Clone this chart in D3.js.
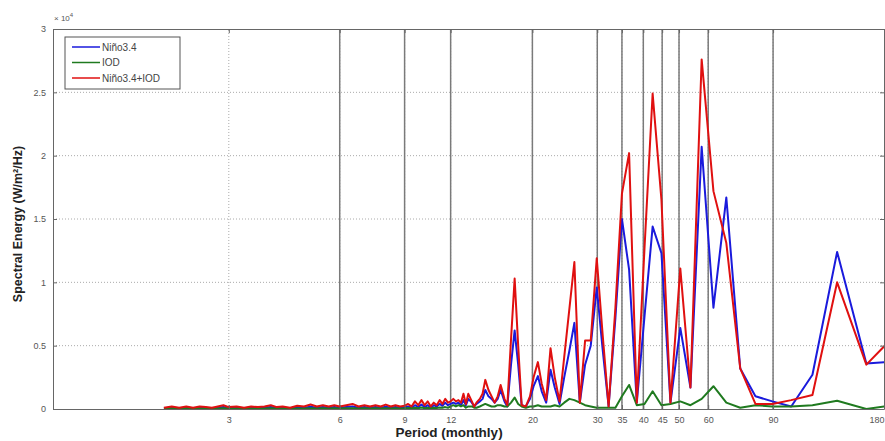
<!DOCTYPE html>
<html>
<head>
<meta charset="utf-8">
<script src="https://cdnjs.cloudflare.com/ajax/libs/d3/7.8.5/d3.min.js"></script>
<style>
  body { margin: 0; background: #fff; }
  svg { display: block; font-family: "Liberation Sans", Arial, sans-serif; }
  .tick text { fill: #555; font-size: 9px; }
</style>
</head>
<body>
<div id="chart"></div>
<script>
const width = 885;
const height = 441;
const margin = { top: 29, right: 1, bottom: 32, left: 53 };

// period (months), ascending
const periods = [2.0, 2.1, 2.2, 2.3, 2.4, 2.5, 2.6, 2.7, 2.8, 2.9, 3.0, 3.15, 3.3, 3.45, 3.6, 3.75, 3.9, 4.05, 4.2, 4.4,
  4.6, 4.8, 5.0, 5.2, 5.4, 5.6, 5.8, 6.0, 6.25, 6.5, 6.75, 7.0, 7.25, 7.5, 7.75, 8.0, 8.25, 8.5, 8.75, 9.0,
  9.2, 9.4, 9.6, 9.8, 10.0, 10.2, 10.4, 10.6, 10.8, 11.0, 11.2, 11.4, 11.6, 11.8,
  12.0, 12.2, 12.4, 12.6, 12.8, 13.0, 13.2, 13.4, 13.7, 13.9, 14.1, 14.4, 14.65, 14.9, 15.2, 15.5, 15.8, 16.1, 16.4, 16.8,
  17.1, 17.5, 17.9, 18.3, 18.7, 19.2, 19.7, 20.15, 20.7, 21.2, 21.8, 22.4, 23.0, 23.7, 24.4, 25.2, 26.0, 26.9, 27.8, 28.8,
  29.9, 31.0, 32.2, 33.6, 35.0, 36.6, 38.4, 40.3, 42.4, 44.8, 47.4, 50.4, 53.7, 57.6, 62.0, 67.2, 73.3, 80.6, 89.6, 100.8,
  115.1, 134.3, 161.2, 201.5];

// spectral energy, x 10^4
const nino34 = [0.005, 0.01, 0.005, 0.01, 0.005, 0.01, 0.008, 0.005, 0.01, 0.015, 0.008, 0.01, 0.005, 0.01, 0.008, 0.01, 0.015, 0.008, 0.01, 0.005,
  0.012, 0.01, 0.018, 0.01, 0.015, 0.01, 0.015, 0.01, 0.015, 0.02, 0.01, 0.015, 0.01, 0.015, 0.01, 0.018, 0.01, 0.015, 0.01, 0.012,
  0.02, 0.01, 0.03, 0.015, 0.035, 0.015, 0.03, 0.01, 0.03, 0.02, 0.04, 0.025, 0.05, 0.03,
  0.04, 0.05, 0.04, 0.05, 0.03, 0.07, 0.03, 0.08, 0.05, 0.02, 0.04, 0.06, 0.08, 0.15, 0.1, 0.08, 0.05, 0.08, 0.15, 0.06,
  0.02, 0.35, 0.62, 0.35, 0.03, 0.02, 0.08, 0.18, 0.26, 0.14, 0.05, 0.31, 0.17, 0.04, 0.25, 0.46, 0.68, 0.05, 0.35, 0.5,
  0.96, 0.48, 0.02, 0.72, 1.5, 1.1, 0.05, 0.73, 1.44, 1.23, 0.05, 0.64, 0.17, 2.07, 0.8, 1.67, 0.32, 0.1, 0.06, 0.02,
  0.27, 1.24, 0.36, 0.38];

const iod = [0.003, 0.005, 0.003, 0.005, 0.003, 0.004, 0.003, 0.003, 0.004, 0.005, 0.003, 0.004, 0.003, 0.004, 0.003, 0.004, 0.005, 0.003, 0.004, 0.003,
  0.004, 0.004, 0.005, 0.004, 0.005, 0.004, 0.005, 0.004, 0.005, 0.006, 0.004, 0.005, 0.004, 0.005, 0.004, 0.006, 0.004, 0.005, 0.004, 0.005,
  0.008, 0.005, 0.01, 0.006, 0.012, 0.006, 0.01, 0.005, 0.01, 0.008, 0.012, 0.01, 0.015, 0.01,
  0.02, 0.03, 0.02, 0.03, 0.02, 0.03, 0.01, 0.02, 0.02, 0.01, 0.01, 0.02, 0.03, 0.04, 0.03, 0.02, 0.02, 0.03, 0.03, 0.02,
  0.02, 0.05, 0.09, 0.04, 0.02, 0.01, 0.02, 0.02, 0.03, 0.02, 0.02, 0.02, 0.03, 0.02, 0.05, 0.08, 0.07, 0.05, 0.03, 0.02,
  0.01, 0.01, 0.01, 0.01, 0.1, 0.19, 0.03, 0.04, 0.14, 0.03, 0.04, 0.06, 0.03, 0.08, 0.18, 0.05, 0.01, 0.03, 0.02, 0.02,
  0.03, 0.065, 0.0, 0.04];

const combined = [0.01, 0.02, 0.01, 0.02, 0.01, 0.02, 0.015, 0.01, 0.02, 0.03, 0.015, 0.02, 0.01, 0.02, 0.015, 0.02, 0.03, 0.015, 0.02, 0.01,
  0.025, 0.02, 0.035, 0.02, 0.03, 0.02, 0.03, 0.02, 0.03, 0.04, 0.02, 0.03, 0.02, 0.03, 0.02, 0.035, 0.02, 0.03, 0.02, 0.025,
  0.04, 0.02, 0.06, 0.03, 0.07, 0.03, 0.06, 0.02, 0.05, 0.03, 0.07, 0.04, 0.08, 0.05,
  0.06, 0.08, 0.06, 0.07, 0.05, 0.12, 0.04, 0.12, 0.06, 0.02, 0.05, 0.08, 0.12, 0.23, 0.15, 0.1, 0.05, 0.1, 0.19, 0.08,
  0.03, 0.55, 1.03, 0.5, 0.03, 0.02, 0.1, 0.25, 0.37, 0.2, 0.07, 0.48, 0.25, 0.06, 0.41, 0.79, 1.16, 0.05, 0.54, 0.54,
  1.19, 0.6, 0.02, 0.8, 1.7, 2.02, 0.05, 1.27, 2.49, 1.65, 0.05, 1.11, 0.17, 2.76, 1.72, 1.31, 0.32, 0.04, 0.04, 0.07,
  0.11, 1.0, 0.35, 0.64];

const seriesNames = ["Niño3.4", "IOD", "Niño3.4+IOD"];
const seriesColors = ["#1a1adc", "#1f7a1f", "#e01010"];
const xTicks = [3, 6, 9, 12, 20, 30, 35, 40, 45, 50, 60, 90, 180];
const markerLines = [6, 9, 12, 20, 30, 35, 40, 45, 50, 60, 90];
const yTicks = [0, 0.5, 1, 1.5, 2, 2.5, 3];

const svg = d3.select("#chart").append("svg")
  .attr("width", width)
  .attr("height", height);

const x = d3.scaleLog()
  .domain([1, 180])
  .range([margin.left, width - margin.right]);

const y = d3.scaleLinear()
  .domain([0, 3])
  .range([height - margin.bottom, margin.top]);

const x0 = margin.left, x1 = width - margin.right;
const y0 = height - margin.bottom, y1 = margin.top;

svg.append("defs").append("clipPath").attr("id", "plot-clip")
  .append("rect")
  .attr("x", x0).attr("y", y1)
  .attr("width", x1 - x0).attr("height", y0 - y1);

// dotted grid
svg.append("g")
  .selectAll("line")
  .data(yTicks.slice(1, -1))
  .join("line")
  .attr("x1", x0).attr("x2", x1)
  .attr("y1", d => y(d)).attr("y2", d => y(d))
  .attr("stroke", "#aaa")
  .attr("stroke-dasharray", "1,2");

svg.append("g")
  .selectAll("line")
  .data(xTicks.slice(0, -1))
  .join("line")
  .attr("x1", d => x(d)).attr("x2", d => x(d))
  .attr("y1", y0).attr("y2", y1)
  .attr("stroke", "#aaa")
  .attr("stroke-dasharray", "1,2");

// solid period markers
svg.append("g")
  .selectAll("line")
  .data(markerLines)
  .join("line")
  .attr("x1", d => x(d)).attr("x2", d => x(d))
  .attr("y1", y0).attr("y2", y1)
  .attr("stroke", "#7a7a7a")
  .attr("stroke-width", 1.5);

// series
const line = d3.line()
  .x((d, i) => x(periods[i]))
  .y(d => y(d));

const plot = svg.append("g").attr("clip-path", "url(#plot-clip)");
[nino34, iod, combined].forEach((values, i) => {
  plot.append("path")
    .datum(values)
    .attr("fill", "none")
    .attr("stroke", seriesColors[i])
    .attr("stroke-width", 2)
    .attr("stroke-linejoin", "round")
    .attr("d", line);
});

// axes
const xAxis = d3.axisBottom(x).tickValues(xTicks).tickFormat(d3.format("d")).tickSizeInner(-4).tickSizeOuter(0).tickPadding(8);
svg.append("g")
  .attr("transform", "translate(0," + y0 + ")")
  .call(xAxis)
  .call(g => g.select(".domain").attr("stroke", "#666"))
  .call(g => g.selectAll(".tick line").attr("stroke", "#666"))
  .call(g => g.selectAll(".tick text").filter(d => d === 180).attr("text-anchor", "end").attr("dx", 0));

svg.append("g")
  .attr("transform", "translate(0," + y1 + ")")
  .call(d3.axisTop(x).tickValues(xTicks).tickFormat("").tickSizeInner(-4).tickSizeOuter(0))
  .call(g => g.select(".domain").attr("stroke", "#666"))
  .call(g => g.selectAll(".tick line").attr("stroke", "#666"));

const yAxis = d3.axisLeft(y).tickValues(yTicks).tickFormat(d3.format("~g")).tickSizeInner(-4).tickSizeOuter(0).tickPadding(7);
svg.append("g")
  .attr("transform", "translate(" + x0 + ",0)")
  .call(yAxis)
  .call(g => g.select(".domain").attr("stroke", "#666"))
  .call(g => g.selectAll(".tick line").attr("stroke", "#666"));

svg.append("g")
  .attr("transform", "translate(" + x1 + ",0)")
  .call(d3.axisRight(y).tickValues(yTicks).tickFormat("").tickSizeInner(-4).tickSizeOuter(0))
  .call(g => g.select(".domain").attr("stroke", "#666"))
  .call(g => g.selectAll(".tick line").attr("stroke", "#666"));

// exponent note
const expo = svg.append("text")
  .attr("x", x0 + 1).attr("y", y1 - 8)
  .attr("fill", "#555").attr("font-size", 8);
expo.append("tspan").text("× 10");
expo.append("tspan").attr("dy", -4).attr("font-size", 6).text("4");

// axis titles
svg.append("text")
  .attr("x", 449).attr("y", 437)
  .attr("text-anchor", "middle")
  .attr("font-size", 13.5).attr("font-weight", "bold").attr("fill", "#222")
  .text("Period (monthly)");

svg.append("text")
  .attr("transform", "translate(22," + ((y0 + y1) / 2 + 5) + ") rotate(-90)")
  .attr("text-anchor", "middle")
  .attr("font-size", 12.5).attr("font-weight", "bold").attr("fill", "#222")
  .text("Spectral Energy (W/m²/Hz)");

// legend
const legend = svg.append("g").attr("transform", "translate(65,37)");
legend.append("rect")
  .attr("width", 115).attr("height", 52)
  .attr("fill", "#fff").attr("stroke", "#555");
seriesNames.forEach((name, i) => {
  const row = legend.append("g").attr("transform", "translate(0," + (10 + i * 15.5) + ")");
  row.append("line")
    .attr("x1", 7).attr("x2", 35)
    .attr("stroke", seriesColors[i]).attr("stroke-width", 1.5);
  row.append("text")
    .attr("x", 37).attr("y", 3.5)
    .attr("font-size", 10).attr("fill", "#444")
    .text(name);
});
</script>
</body>
</html>
